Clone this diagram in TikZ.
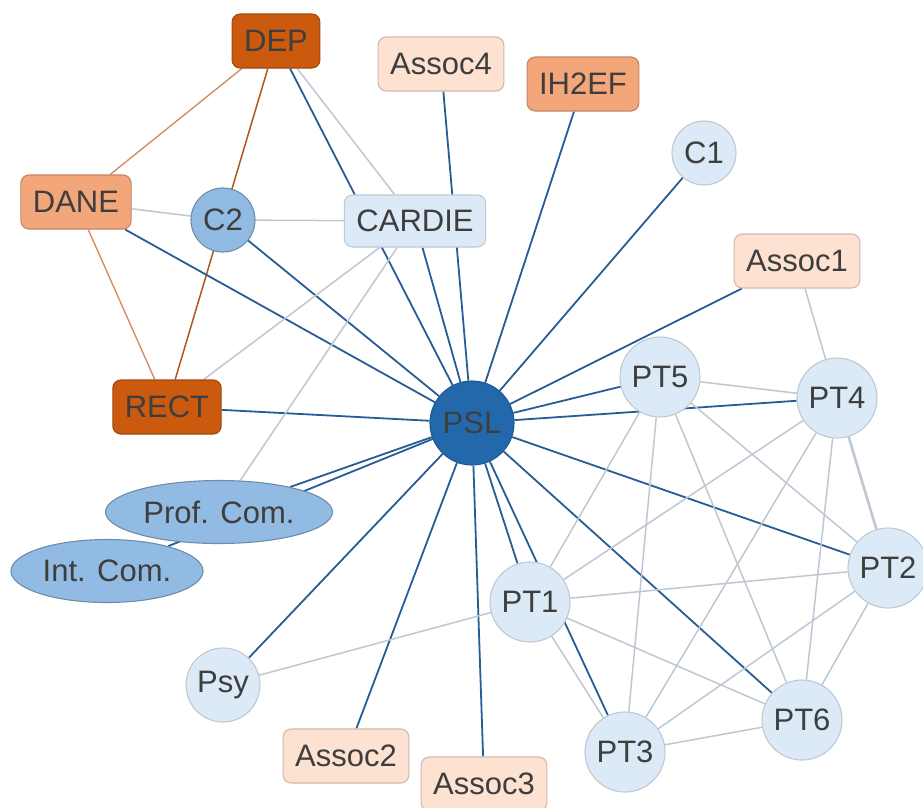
\documentclass[tikz,border=0pt]{standalone}
\usepackage{fontspec}
\setmainfont{Liberation Sans}
\usetikzlibrary{shapes.geometric,backgrounds}

\definecolor{textgris}{RGB}{62,62,62}
\definecolor{blaufosc}{RGB}{36,104,172}
\definecolor{blaumig}{RGB}{146,187,227}
\definecolor{blauclar}{RGB}{220,233,246}
\definecolor{taronjafosc}{RGB}{203,90,14}
\definecolor{taronja}{RGB}{243,166,122}
\definecolor{preseg}{RGB}{253,226,210}
\definecolor{arblau}{RGB}{40,92,150}
\definecolor{argris}{RGB}{190,199,210}
\definecolor{artaronja}{RGB}{212,142,98}
\definecolor{artaronjafosc}{RGB}{178,86,30}

\begin{document}
\begin{tikzpicture}[x=1pt,y=-1pt,
	every node/.style={font=\fontsize{31}{37}\selectfont,text=textgris,line width=1.1pt},
	caixa/.style={rectangle,rounded corners=8pt,draw,inner xsep=12pt,inner ysep=0pt,minimum height=54pt},
	cercle/.style={circle,draw,inner sep=0pt},
	oval/.style={ellipse,draw,inner sep=0pt,fill=blaumig,draw=blaumig!75!black},
	clar/.style={fill=blauclar,draw=blauclar!70!gray},
	mig/.style={fill=blaumig,draw=blaumig!75!black},
	fosc/.style={fill=taronjafosc,draw=taronjafosc!80!black},
	mitja/.style={fill=taronja,draw=taronja!80!black},
	assoc/.style={fill=preseg,draw=preseg!82!black},
	fort/.style={draw=arblau,line width=1.8pt},
	fluix/.style={draw=argris,line width=1.5pt},
	ataronja/.style={draw=artaronja,line width=1.4pt},
	ataronjafosc/.style={draw=artaronjafosc,line width=1.5pt}]

	\useasboundingbox (0,0) rectangle (923,807);

	% Nodes
	\node[caixa,fosc] (dep) at (276,41) {DEP};
	\node[caixa,assoc] (assocq) at (441,64) {Assoc4};
	\node[caixa,mitja] (ih) at (583,84) {IH2EF};
	\node[cercle,clar,minimum size=64pt] (ca) at (704,153) {C1};
	\node[caixa,mitja] (dane) at (76,202) {DANE};
	\node[cercle,mig,minimum size=64pt] (cb) at (223,220) {C2};
	\node[caixa,clar,minimum height=52pt] (cardie) at (415,221) {CARDIE};
	\node[caixa,assoc] (assoca) at (797,261) {Assoc1};
	\node[caixa,fosc] (rect) at (167,407) {RECT};
	\node[cercle,fill=blaufosc,draw=blaufosc!85!black,minimum size=84pt] (psl) at (472,423) {PSL};
	\node[oval,minimum width=227pt,minimum height=63pt] (prof) at (219,512) {Prof. Com.};
	\node[oval,minimum width=192pt,minimum height=63pt] (int) at (107,571) {Int. Com.};
	\node[cercle,clar,minimum size=74pt] (psy) at (223,685) {Psy};
	\node[caixa,assoc] (assocb) at (346,756) {Assoc2};
	\node[caixa,assoc] (assocc) at (484,784) {Assoc3};

	\node[cercle,clar,minimum size=80pt] (pte) at (660,377) {PT5};
	\node[cercle,clar,minimum size=80pt] (ptd) at (837,398) {PT4};
	\node[cercle,clar,minimum size=80pt] (ptb) at (888,568) {PT2};
	\node[cercle,clar,minimum size=80pt] (pta) at (530,602) {PT1};
	\node[cercle,clar,minimum size=80pt] (ptc) at (625,752) {PT3};
	\node[cercle,clar,minimum size=80pt] (ptf) at (802,720) {PT6};

	\begin{pgfonlayer}{background}
	% Arestes grogues
	\draw[ataronja] (dep) -- (dane);
	\draw[ataronja] (dane) -- (rect);
	\draw[ataronjafosc] (dep) -- (rect);

	% Arestes de PSL
	\draw[fort] (psl) -- (dep);
	\draw[fort] (psl) -- (assocq);
	\draw[fort] (psl) -- (ih);
	\draw[fort] (psl) -- (ca);
	\draw[fort] (psl) -- (assoca);
	\draw[fort] (psl) -- (cardie);
	\draw[fort] (psl) -- (cb);
	\draw[fort] (psl) -- (dane);
	\draw[fort] (psl) -- (rect);
	\draw[fort] (psl) -- (prof);
	\draw[fort] (psl) -- (int);
	\draw[fort] (psl) -- (psy);
	\draw[fort] (psl) -- (assocb);
	\draw[fort] (psl) -- (assocc);
	\draw[fort] (psl) -- (pta);
	\draw[fort] (psl) -- (ptc);
	\draw[fort] (psl) -- (ptf);
	\draw[fort] (psl) -- (ptb);
	\draw[fort] (psl) -- (ptd);
	\draw[fort] (psl) -- (pte);

	% Arestes fluixes
	\draw[fluix] (dep) -- (cardie);
	\draw[fluix] (dane) -- (cb);
	\draw[fluix] (cb) -- (cardie);
	\draw[fluix] (cardie) -- (rect);
	\draw[fluix] (cardie) -- (prof);
	\draw[fluix] (pta) -- (psy);
	\draw[fluix] (assoca) -- (ptd);

	% Xarxa PT
	\draw[fluix] (pte) -- (ptd);
	\draw[fluix] (pte) -- (pta);
	\draw[fluix] (pte) -- (ptc);
	\draw[fluix] (pte) -- (ptf);
	\draw[fluix] (pte) -- (ptb);
	\draw[fluix] (ptd) -- (pta);
	\draw[fluix] (ptd) -- (ptc);
	\draw[fluix] (ptd) -- (ptf);
	\draw[fluix,line width=2.6pt] (ptd) -- (ptb);
	\draw[fluix] (ptb) -- (pta);
	\draw[fluix] (ptb) -- (ptc);
	\draw[fluix] (ptb) -- (ptf);
	\draw[fluix] (pta) -- (ptf);
	\draw[fluix] (pta) -- (ptc);
	\draw[fluix] (ptc) -- (ptf);
	\end{pgfonlayer}

\end{tikzpicture}
\end{document}
